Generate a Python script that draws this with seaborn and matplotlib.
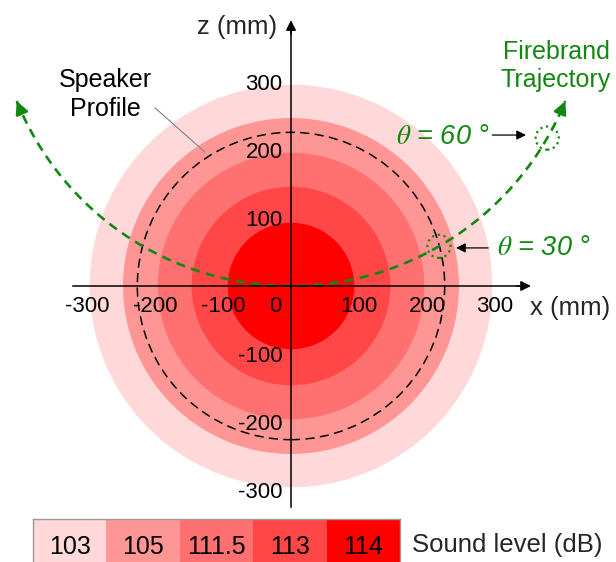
import numpy as np
import matplotlib
matplotlib.use("Agg")
import matplotlib.pyplot as plt
from matplotlib.colors import ListedColormap
from matplotlib.patches import Circle, Arc
from matplotlib.transforms import ScaledTranslation
import seaborn as sns

# Sound-level zones around the speaker, outermost first
sound_levels = ["103", "105", "111.5", "113", "114"]
zone_radius_mm = [296, 247, 196, 146, 93]
zone_colors = ["#FFD9D9", "#FF9696", "#FF7070", "#FF4747", "#FF0000"]

# Speaker outline and pendulum-swing firebrand path
speaker_radius_mm = 226
pendulum_length_mm = 435
swing_limit_deg = 68
marked_angles_deg = [30, 60]
marked_labels = [r"$\theta$ = 30 °", r"$\theta$ = 60 °"]
firebrand_radius_mm = 17

x_ticks = [-300, -200, -100, 0, 100, 200, 300]
z_ticks = [-300, -200, -100, 100, 200, 300]

GREEN = "#128812"

sns.set_theme(style="white")
plt.rcParams["font.family"] = ["Liberation Sans", "DejaVu Sans"]
plt.rcParams["mathtext.fontset"] = "stix"

fig = plt.figure(figsize=(6.16, 5.62), dpi=100)
ax = fig.add_axes([0, 0, 1, 1])
ax.set_xlim(-427.9, 477.9)
ax.set_ylim(-405.9, 420.6)
ax.set_facecolor("white")
ax.set_axisbelow(False)

# concentric sound-level zones
for r, c in zip(zone_radius_mm, zone_colors):
    ax.add_patch(Circle((0, 0), r, facecolor=c, edgecolor="none", zorder=1))

# speaker profile
ax.add_patch(Circle((0, 0), speaker_radius_mm, fill=False, edgecolor="black",
                    lw=1.1, linestyle=(0, (6, 3.5)), zorder=3))

# firebrand trajectory: arc of a pendulum hung at (0, L)
L = pendulum_length_mm
ax.add_patch(Arc((0, L), 2 * L, 2 * L, theta1=270 - swing_limit_deg,
                 theta2=270 + swing_limit_deg, color=GREEN, lw=1.9,
                 linestyle=(0, (3.5, 2.4)), zorder=4))


def on_path(deg):
    a = np.deg2rad(deg)
    return L * np.sin(a), L * (1 - np.cos(a))


for sign in (-1, 1):
    tip = on_path(sign * swing_limit_deg)
    tail = on_path(sign * (swing_limit_deg - 1.5))
    ax.annotate("", xy=tip, xytext=tail,
                arrowprops=dict(arrowstyle="-|>", color=GREEN, lw=1.9,
                                mutation_scale=19, shrinkA=0, shrinkB=0),
                zorder=4)

for deg in marked_angles_deg:
    ax.add_patch(Circle(on_path(deg), firebrand_radius_mm, fill=False,
                        edgecolor=GREEN, lw=1.6, linestyle=":", zorder=5))

# angle call-outs
ax.text(292.6, 219, marked_labels[1], ha="right", va="center", color=GREEN,
        fontsize=19.5, style="italic")
ax.annotate("", xy=(345.6, 222), xytext=(296, 222),
            arrowprops=dict(arrowstyle="-|>", color="black", lw=0.9,
                            mutation_scale=14, shrinkA=0, shrinkB=0))
ax.text(303, 56, marked_labels[0], ha="left", va="center", color=GREEN,
        fontsize=19.5, style="italic")
ax.annotate("", xy=(242.6, 56), xytext=(290, 56),
            arrowprops=dict(arrowstyle="-|>", color="black", lw=0.9,
                            mutation_scale=14, shrinkA=0, shrinkB=0))

ax.text(389.7, 323.5, "Firebrand\nTrajectory", ha="center", va="center",
        color=GREEN, fontsize=18, linespacing=1.25)
ax.text(-273.5, 282, "Speaker\nProfile", ha="center", va="center",
        color="black", fontsize=18, linespacing=1.25)
ax.plot([-200, -126.5], [262, 197], color="#808080", lw=0.8, zorder=6)

# axes through the origin with arrowheads
for side in ("top", "right"):
    ax.spines[side].set_visible(False)
for side in ("left", "bottom"):
    ax.spines[side].set_position(("data", 0))
    ax.spines[side].set_color("black")
    ax.spines[side].set_linewidth(1.1)
    ax.spines[side].set_zorder(7)
ax.spines["left"].set_bounds(-325, 380)
ax.spines["bottom"].set_bounds(-320.6, 340)
ax.annotate("", xy=(0, 391), xytext=(0, 370),
            arrowprops=dict(arrowstyle="-|>", color="black", lw=1.1,
                            mutation_scale=15, shrinkA=0, shrinkB=0))
ax.annotate("", xy=(352.9, 0), xytext=(332, 0),
            arrowprops=dict(arrowstyle="-|>", color="black", lw=1.1,
                            mutation_scale=15, shrinkA=0, shrinkB=0))

ax.set_xticks(x_ticks)
ax.set_xticklabels([str(t) for t in x_ticks])
ax.set_yticks(z_ticks)
ax.set_yticklabels([str(t) for t in z_ticks])
ax.tick_params(axis="both", direction="in", length=10.5, width=0.9,
               color="black", labelcolor="black", labelsize=16)
ax.tick_params(axis="x", pad=7)
ax.tick_params(axis="y", pad=6)
zero_lbl = ax.get_xticklabels()[x_ticks.index(0)]
zero_lbl.set_transform(zero_lbl.get_transform()
                       + ScaledTranslation(-11 / 72, 0, fig.dpi_scale_trans))

ax.set_xlabel("x (mm)", fontsize=18.5)
ax.xaxis.set_label_coords(351.5, -32.4, transform=ax.transData)
ax.xaxis.label.set_ha("left")
ax.xaxis.label.set_va("center")
ax.set_ylabel("z (mm)", fontsize=18.5, rotation=0)
ax.yaxis.set_label_coords(-20.6, 381, transform=ax.transData)
ax.yaxis.label.set_ha("right")
ax.yaxis.label.set_va("center")

# sound-level key
cax = fig.add_axes([33 / 616, -13 / 562, 367 / 616, 56 / 562])
sns.heatmap(np.arange(len(sound_levels)).reshape(1, -1), ax=cax,
            cmap=ListedColormap(zone_colors), vmin=-0.5,
            vmax=len(sound_levels) - 0.5,
            annot=np.array([sound_levels]), fmt="",
            annot_kws={"fontsize": 18, "color": "black"},
            cbar=False, xticklabels=False, yticklabels=False)
for sp in cax.spines.values():
    sp.set_visible(True)
    sp.set_color("#9a9a9a")
    sp.set_linewidth(1.0)
fig.text(412 / 616, 17 / 562, "Sound level (dB)", ha="left", va="center",
         fontsize=18.5)

fig.savefig("out.png", dpi=100)
